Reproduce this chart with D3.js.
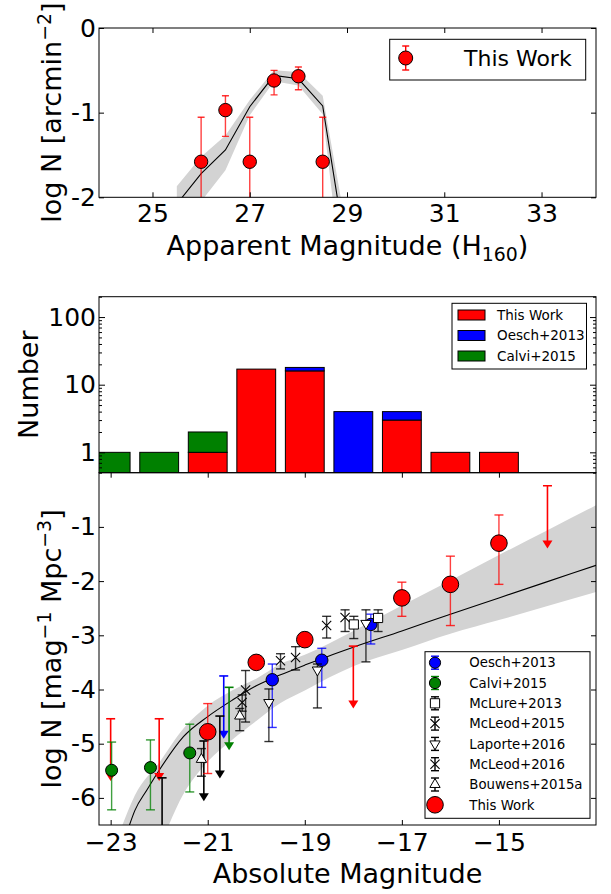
<!DOCTYPE html>
<html>
<head>
<meta charset="utf-8">
<script src="https://cdn.jsdelivr.net/npm/d3@7"></script>
<style>
body { margin: 0; background: #fff; }
text { font-family: "DejaVu Sans", sans-serif; fill: #000; }
</style>
</head>
<body>
<svg id="chart" width="611" height="894"></svg>
<script>
// ---- top panel: number counts vs apparent magnitude
const appMag = [26, 26.5, 27, 27.5, 28, 28.5];
const appLogN = [-1.58, -0.97, -1.58, -0.62, -0.57, -1.58];
const appErrHi = [-1.055, -0.80, -1.055, -0.50, -0.46, -1.055];
const appErrLo = [-3, -1.28, -3, -0.79, -0.73, -3];
const appModelMag = [25.5, 26, 26.5, 27, 27.5, 28, 28.5, 29];
const appModel = [-2.08, -1.72, -1.44, -0.93, -0.56, -0.60, -0.92, -2.72];
const appBandHi = [-1.87, -1.52, -1.27, -0.85, -0.50, -0.52, -0.80, -2.42];
const appBandLo = [-2.35, -2.05, -1.68, -1.03, -0.63, -0.68, -1.02, -3.47];
const appTicks = [25, 27, 29, 31, 33];

// ---- middle panel: histogram of absolute magnitudes
const histBins = [-23, -22, -21, -20, -19, -18, -17, -16, -15];
const histThisWork = [0, 0, 1, 17, 16, 0, 3, 1, 1];
const histOesch = [0, 0, 0, 0, 2, 4, 1, 0, 0];
const histCalvi = [1, 1, 1, 0, 0, 0, 0, 0, 0];
const histLabels = ['This Work', 'Oesch+2013', 'Calvi+2015'];

// ---- bottom panel: luminosity function
const absTicks = [-23, -21, -19, -17, -15];
const phiTicks = [-1, -2, -3, -4, -5, -6];

const lfModelMag = [-22.65, -22.5, -22.25, -22.0, -21.5, -21.0, -20.5, -20.0, -19.5, -19.0, -18.5, -18.0, -17.0, -16.0, -15.0, -14.0, -13.0];
const lfModel = [-6.6, -6.23, -5.85, -5.49, -4.87, -4.50, -4.20, -3.93, -3.73, -3.55, -3.38, -3.22, -2.92, -2.61, -2.31, -2.01, -1.71];
const lfBandMag = [-22.8, -22.5, -22.0, -21.5, -21.0, -20.5, -20.0, -19.5, -19.0, -18.5, -18.0, -17.0, -16.0, -15.0, -14.0, -13.0];
const lfBandHi = [-6.6, -5.95, -5.35, -4.72, -4.30, -4.02, -3.80, -3.53, -3.36, -3.15, -2.92, -2.45, -1.99, -1.52, -1.06, -0.60];
const lfBandLo = [-8.5, -7.8, -6.9, -5.93, -5.33, -4.93, -4.58, -4.25, -4.02, -3.78, -3.57, -3.27, -2.97, -2.72, -2.46, -2.20];

const twMag = [-21, -20, -19, -17, -16, -15];
const twPhi = [-4.78, -3.50, -3.08, -2.31, -2.06, -1.30];
const twHi = [-4.26, -3.42, -3.00, -2.02, -1.54, -0.78];
const twLo = [-5.55, -3.58, -3.16, -2.65, -2.82, -2.06];
const twLimMag = [-23, -22, -18, -14];
const twLimTop = [-4.54, -4.54, -3.20, -0.24];
const twLimTip = [-5.69, -5.69, -4.35, -1.40];

const oeMag = [-19.67, -18.65, -17.64];
const oePhi = [-3.82, -3.46, -2.80];
const oeHi = [-3.53, -3.24, -2.61];
const oeLo = [-4.70, -3.96, -3.16];
const oeLimMag = [-20.67], oeLimTop = [-3.75], oeLimTip = [-4.91];

const caMag = [-22.98, -22.18, -21.37];
const caPhi = [-5.49, -5.44, -5.17];
const caHi = [-4.97, -4.93, -4.64];
const caLo = [-6.22, -6.22, -5.89];
const caLimMag = [-20.56], caLimTop = [-3.96], caLimTip = [-5.12];

const mlMag = [-17.99, -17.49];
const mlPhi = [-2.80, -2.68];
const mlHi = [-2.65, -2.53];
const mlLo = [-3.06, -2.93];

const md15Mag = [-20.22, -19.50, -19.19];
const md15Phi = [-4.01, -3.47, -3.41];
const md15Hi = [-3.65, -3.34, -3.21];
const md15Lo = [-4.60, -3.62, -3.64];

const md16Mag = [-20.29, -18.55, -18.17];
const md16Phi = [-4.24, -2.82, -2.67];
const md16Hi = [-4.10, -2.65, -2.53];
const md16Lo = [-4.40, -3.05, -2.93];
const md16LimMag = [-20.75], md16LimTop = [-4.49], md16LimTip = [-5.64];

const laMag = [-19.74, -18.74, -17.74];
const laPhi = [-4.24, -3.64, -2.78];
const laHi = [-3.99, -3.53, -2.53];
const laLo = [-4.96, -4.34, -3.49];

const bwMag = [-21.13, -20.34];
const bwPhi = [-5.29, -4.49];
const bwHi = [-5.09, -4.35];
const bwLo = [-5.60, -4.76];
const bwLimMag = [-21.08, -21.94], bwLimTop = [-4.95, -5.63], bwLimTip = [-6.06, -6.85];

const lfLabels = ['Oesch+2013', 'Calvi+2015', 'McLure+2013', 'McLeod+2015', 'Laporte+2016', 'McLeod+2016', 'Bouwens+2015a', 'This Work'];

const RED = '#ff0000', BLUE = '#0000ff', GREEN = '#008000';

let svg = d3.select('#chart');
let left = 99, right = 596;

let xApp = d3.scaleLinear().domain([23.9, 34.12]).range([left, right]);
let yApp = d3.scaleLinear().domain([-2, 0]).range([197.3, 28]);
let xAbs = d3.scaleLinear().domain([-23.24, -13.0]).range([left, right]);
let yNum = d3.scaleLog().domain([0.5, 200]).range([472.7, 296.7]);
let yPhi = d3.scaleLinear().domain([-6.5, 0]).range([825, 472.7]);

let defs = svg.append('defs');
function clip(id, y0, y1) {
    defs.append('clipPath').attr('id', id)
        .append('rect').attr('x', left).attr('y', y0).attr('width', right - left).attr('height', y1 - y0);
    return svg.append('g').attr('clip-path', 'url(#' + id + ')');
}

function axis(ax, transform) {
    let g = svg.append('g').attr('transform', transform).call(ax);
    g.select('.domain').remove();
    g.attr('font-family', '"DejaVu Sans", sans-serif').attr('font-size', 25);
    g.selectAll('line').attr('stroke', '#000');
    g.selectAll('text').attr('fill', '#000');
    return g;
}

function frame(y0, y1) {
    svg.append('rect').attr('x', left).attr('y', y0).attr('width', right - left).attr('height', y1 - y0)
        .attr('fill', 'none').attr('stroke', '#000').attr('stroke-width', 1);
}

function rich(text, parts, size) {
    let shift = 0;
    parts.forEach(([s, kind]) => {
        let target = kind === 'sup' ? -0.38 * size : kind === 'sub' ? 0.22 * size : 0;
        text.append('tspan').attr('dy', target - shift)
            .attr('font-size', kind === 'n' ? size : size * 0.7).text(s);
        shift = target;
    });
}

function errorbars(g, xs, his, los, color, x, y, cap) {
    cap = cap || 4.5;
    xs.forEach((m, i) => {
        let cx = x(m);
        g.append('line').attr('x1', cx).attr('x2', cx).attr('y1', y(his[i])).attr('y2', y(los[i]))
            .attr('stroke', color).attr('stroke-width', 1.4).attr('stroke-opacity', 0.75);
        [his[i], los[i]].forEach(v => {
            g.append('line').attr('x1', cx - cap).attr('x2', cx + cap).attr('y1', y(v)).attr('y2', y(v))
                .attr('stroke', color).attr('stroke-width', 1.4).attr('stroke-opacity', 0.8);
        });
    });
}

function limits(g, xs, tops, tips, color) {
    xs.forEach((m, i) => {
        let cx = xAbs(m), yt = yPhi(tops[i]), yb = yPhi(tips[i]);
        g.append('line').attr('x1', cx).attr('x2', cx).attr('y1', yt).attr('y2', yb - 6)
            .attr('stroke', color).attr('stroke-width', 1.6);
        g.append('line').attr('x1', cx - 4.5).attr('x2', cx + 4.5).attr('y1', yt).attr('y2', yt)
            .attr('stroke', color).attr('stroke-width', 1.6);
        g.append('path').attr('d', 'M' + (cx - 5) + ',' + (yb - 8) + 'L' + (cx + 5) + ',' + (yb - 8) + 'L' + cx + ',' + yb + 'Z')
            .attr('fill', color);
    });
}

function marker(g, kind, cx, cy, fill, r) {
    if (kind === 'circle') {
        g.append('circle').attr('cx', cx).attr('cy', cy).attr('r', r)
            .attr('fill', fill).attr('stroke', '#000').attr('stroke-width', 1);
    } else if (kind === 'square') {
        g.append('path').attr('transform', 'translate(' + cx + ',' + cy + ')')
            .attr('d', d3.symbol(d3.symbolSquare).size(85)())
            .attr('fill', '#fff').attr('stroke', '#000');
    } else if (kind === 'up' || kind === 'down') {
        g.append('path').attr('transform', 'translate(' + cx + ',' + cy + ')' + (kind === 'down' ? ' rotate(180)' : ''))
            .attr('d', d3.symbol(d3.symbolTriangle).size(46)())
            .attr('fill', '#fff').attr('stroke', '#000');
    } else if (kind === 'x') {
        let s = 4.6;
        g.append('path').attr('d', 'M' + (cx - s) + ',' + (cy - s) + 'L' + (cx + s) + ',' + (cy + s) +
            'M' + (cx - s) + ',' + (cy + s) + 'L' + (cx + s) + ',' + (cy - s))
            .attr('stroke', '#000').attr('stroke-width', 1.1).attr('fill', 'none');
    }
}

function points(g, xs, vs, kind, fill, r) {
    xs.forEach((m, i) => marker(g, kind, xAbs(m), yPhi(vs[i]), fill, r));
}

// =================== TOP PANEL ===================
let gTop = clip('clipTop', 28, 197.3);
let appRows = appModelMag.map((m, i) => ({ m: m, v: appModel[i], hi: appBandHi[i], lo: appBandLo[i] }));
gTop.append('path').datum(appRows)
    .attr('d', d3.area().x(d => xApp(d.m)).y0(d => yApp(d.lo)).y1(d => yApp(d.hi)))
    .attr('fill', '#d3d3d3');
gTop.append('path').datum(appRows)
    .attr('d', d3.line().x(d => xApp(d.m)).y(d => yApp(d.v)))
    .attr('fill', 'none').attr('stroke', '#000').attr('stroke-width', 1.1);
errorbars(gTop, appMag, appErrHi, appErrLo, RED, xApp, yApp, 3.5);
appMag.forEach((m, i) => marker(gTop, 'circle', xApp(m), yApp(appLogN[i]), RED, 6.7));

axis(d3.axisBottom(xApp).tickValues(appTicks).tickSize(-5).tickPadding(7), 'translate(0,197.3)');
axis(d3.axisTop(xApp).tickValues(appTicks).tickSize(-5).tickFormat(''), 'translate(0,28)');
axis(d3.axisLeft(yApp).tickValues([0, -1, -2]).tickSize(-5).tickPadding(3).tickFormat(d => String(d)), 'translate(' + left + ',0)');
axis(d3.axisRight(yApp).tickValues([0, -1, -2]).tickSize(-5).tickFormat(''), 'translate(' + right + ',0)');
frame(28, 197.3);

// legend
svg.append('rect').attr('x', 389.7).attr('y', 39.3).attr('width', 196).attr('height', 40.7)
    .attr('fill', '#fff').attr('stroke', '#000').attr('stroke-width', 1);
let lgTop = svg.append('g');
[[405.7, 46, 70]].forEach(([lx, a, b]) => {
    lgTop.append('line').attr('x1', lx).attr('x2', lx).attr('y1', a).attr('y2', b).attr('stroke', RED).attr('stroke-width', 1.4);
    [a, b].forEach(v => lgTop.append('line').attr('x1', lx - 3.5).attr('x2', lx + 3.5).attr('y1', v).attr('y2', v).attr('stroke', RED).attr('stroke-width', 1.4));
    marker(lgTop, 'circle', lx, 58, RED, 7);
});
svg.append('text').attr('x', 464).attr('y', 58).attr('dy', '0.36em').attr('font-size', 22).text('This Work');

// labels
let tTopX = svg.append('text').attr('x', (left + right) / 2).attr('y', 255).attr('text-anchor', 'middle');
rich(tTopX, [['Apparent Magnitude (H', 'n'], ['160', 'sub'], [')', 'n']], 27);
let tTopY = svg.append('text').attr('transform', 'translate(61,112.6) rotate(-90)').attr('text-anchor', 'middle');
rich(tTopY, [['log N [arcmin', 'n'], ['\u22122', 'sup'], [']', 'n']], 27);

// =================== MIDDLE PANEL ===================
let gMid = clip('clipMid', 296.7, 472.7);
let histRows = histBins.map((b, i) => ({ bin: b, tw: histThisWork[i], oe: histOesch[i], ca: histCalvi[i] }));
let stack = d3.stack().keys(['tw', 'oe', 'ca'])(histRows);
let histColors = { tw: RED, oe: BLUE, ca: GREEN };
stack.forEach(series => {
    series.forEach(d => {
        if (d[1] - d[0] <= 0) return;
        let y0 = yNum(Math.max(d[0], 0.1)), y1 = yNum(d[1]);
        gMid.append('rect')
            .attr('x', xAbs(d.data.bin - 0.4)).attr('width', xAbs(d.data.bin + 0.4) - xAbs(d.data.bin - 0.4))
            .attr('y', y1).attr('height', y0 - y1)
            .attr('fill', histColors[series.key]).attr('stroke', '#000').attr('stroke-width', 1);
    });
});

let minor = [];
[0.1, 1, 10, 100].forEach(dec => [2, 3, 4, 5, 6, 7, 8, 9].forEach(k => {
    let v = dec * k;
    if (v >= 0.5 && v <= 200) minor.push(v);
}));
axis(d3.axisLeft(yNum).tickValues([1, 10, 100]).tickSize(-6).tickPadding(3).tickFormat(d3.format('d')), 'translate(' + left + ',0)');
axis(d3.axisLeft(yNum).tickValues(minor).tickSize(-3).tickFormat(''), 'translate(' + left + ',0)');
axis(d3.axisRight(yNum).tickValues([1, 10, 100]).tickSize(-6).tickFormat(''), 'translate(' + right + ',0)');
axis(d3.axisRight(yNum).tickValues(minor).tickSize(-3).tickFormat(''), 'translate(' + right + ',0)');
frame(296.7, 472.7);

svg.append('rect').attr('x', 452).attr('y', 303.3).attr('width', 134.5).attr('height', 65.7)
    .attr('fill', '#fff').attr('stroke', '#000').attr('stroke-width', 1);
['tw', 'oe', 'ca'].forEach((k, i) => {
    let cy = 315 + i * 20.5;
    svg.append('rect').attr('x', 458).attr('y', cy - 5).attr('width', 27).attr('height', 10)
        .attr('fill', histColors[k]).attr('stroke', '#000').attr('stroke-width', 1);
    svg.append('text').attr('x', 497).attr('y', cy).attr('dy', '0.36em').attr('font-size', 13.5).text(histLabels[i]);
});

svg.append('text').attr('transform', 'translate(38,384.7) rotate(-90)').attr('text-anchor', 'middle')
    .attr('font-size', 27).text('Number');

// =================== BOTTOM PANEL ===================
let gBot = clip('clipBot', 472.7, 825);
let bandRows = lfBandMag.map((m, i) => ({ m: m, hi: lfBandHi[i], lo: lfBandLo[i] }));
gBot.append('path').datum(bandRows)
    .attr('d', d3.area().curve(d3.curveMonotoneX).x(d => xAbs(d.m)).y0(d => yPhi(d.lo)).y1(d => yPhi(d.hi)))
    .attr('fill', '#d3d3d3');
let modelRows = lfModelMag.map((m, i) => ({ m: m, v: lfModel[i] }));
gBot.append('path').datum(modelRows)
    .attr('d', d3.line().curve(d3.curveMonotoneX).x(d => xAbs(d.m)).y(d => yPhi(d.v)))
    .attr('fill', 'none').attr('stroke', '#000').attr('stroke-width', 1.1);

limits(gBot, twLimMag, twLimTop, twLimTip, RED);

errorbars(gBot, oeMag, oeHi, oeLo, BLUE, xAbs, yPhi);
limits(gBot, oeLimMag, oeLimTop, oeLimTip, BLUE);
points(gBot, oeMag, oePhi, 'circle', BLUE, 6.2);

errorbars(gBot, caMag, caHi, caLo, GREEN, xAbs, yPhi);
limits(gBot, caLimMag, caLimTop, caLimTip, GREEN);
points(gBot, caMag, caPhi, 'circle', GREEN, 6);

errorbars(gBot, mlMag, mlHi, mlLo, '#000', xAbs, yPhi);
points(gBot, mlMag, mlPhi, 'square');

errorbars(gBot, md15Mag, md15Hi, md15Lo, '#000', xAbs, yPhi);
points(gBot, md15Mag, md15Phi, 'x');

errorbars(gBot, laMag, laHi, laLo, '#000', xAbs, yPhi);
points(gBot, laMag, laPhi, 'down');

errorbars(gBot, md16Mag, md16Hi, md16Lo, '#000', xAbs, yPhi);
limits(gBot, md16LimMag, md16LimTop, md16LimTip, '#000');
points(gBot, md16Mag, md16Phi, 'x');

errorbars(gBot, bwMag, bwHi, bwLo, '#000', xAbs, yPhi);
limits(gBot, bwLimMag, bwLimTop, bwLimTip, '#000');
points(gBot, bwMag, bwPhi, 'up');

errorbars(gBot, twMag, twHi, twLo, RED, xAbs, yPhi);
points(gBot, twMag, twPhi, 'circle', RED, 8.3);

axis(d3.axisBottom(xAbs).tickValues(absTicks).tickSize(-5).tickPadding(8).tickFormat(d => '\u2212' + Math.abs(d)), 'translate(0,825)');
axis(d3.axisTop(xAbs).tickValues(absTicks).tickSize(-5).tickFormat(''), 'translate(0,472.7)');
axis(d3.axisLeft(yPhi).tickValues(phiTicks).tickSize(-5).tickPadding(3).tickFormat(d => String(d)), 'translate(' + left + ',0)');
axis(d3.axisRight(yPhi).tickValues(phiTicks).tickSize(-5).tickFormat(''), 'translate(' + right + ',0)');
frame(472.7, 825);

// legend
svg.append('rect').attr('x', 425).attr('y', 651.7).attr('width', 165).attr('height', 166.6)
    .attr('fill', '#fff').attr('stroke', '#000').attr('stroke-width', 1);
let lg = svg.append('g');
let lgKinds = [['circle', BLUE], ['circle', GREEN], ['square', '#000'], ['x', '#000'], ['down', '#000'], ['x', '#000'], ['up', '#000'], ['circle', RED]];
lfLabels.forEach((label, i) => {
    let cy = 662.7 + i * 20.3, lx = 435;
    let [kind, color] = lgKinds[i];
    if (i < 7) {
        lg.append('line').attr('x1', lx).attr('x2', lx).attr('y1', cy - 6.5).attr('y2', cy + 6.5).attr('stroke', color).attr('stroke-width', 1.4);
        [cy - 6.5, cy + 6.5].forEach(v => lg.append('line').attr('x1', lx - 4).attr('x2', lx + 4).attr('y1', v).attr('y2', v)
            .attr('stroke', color).attr('stroke-width', 1.4));
    }
    if (kind === 'circle') marker(lg, 'circle', lx, cy, color, i === 7 ? 8.3 : 5.6);
    else marker(lg, kind, lx, cy);
    svg.append('text').attr('x', 469.3).attr('y', cy).attr('dy', '0.36em').attr('font-size', 13.3).text(label);
});

let tBotX = svg.append('text').attr('x', (left + right) / 2).attr('y', 883).attr('text-anchor', 'middle').attr('font-size', 27)
    .text('Absolute Magnitude');
let tBotY = svg.append('text').attr('transform', 'translate(61,648.9) rotate(-90)').attr('text-anchor', 'middle');
rich(tBotY, [['log N [mag', 'n'], ['\u22121', 'sup'], [' Mpc', 'n'], ['\u22123', 'sup'], [']', 'n']], 27);
</script>
</body>
</html>
